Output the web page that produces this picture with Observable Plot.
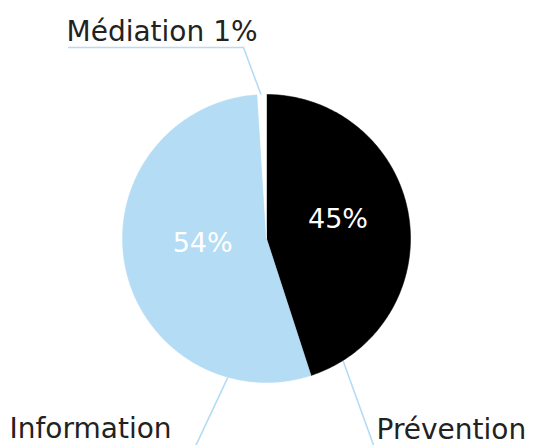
<!DOCTYPE html>
<html>
<head>
<meta charset="utf-8">
<script src="https://cdn.jsdelivr.net/npm/d3@7"></script>
<script src="https://cdn.jsdelivr.net/npm/@observablehq/plot@0.6"></script>
<style>
  html, body { margin: 0; padding: 0; background: #ffffff; }
  #chart svg { display: block; }
</style>
</head>
<body>
<div id="chart"></div>
<script>
// ---- data ----
const categories = ["Prévention", "Information", "Médiation"];
const values = [45, 54, 1];
const valueLabels = ["45%", "54%", "1%"];
const colors = ["#000000", "#b4dcf4", "#ffffff"];

// ---- layout ----
const W = 543, H = 445;
const cx = 266, cy = 238, R = 144;
const font = "'DejaVu Sans', 'Noto Sans', sans-serif";
const lineColor = "#b4dcf4";
const textColor = "#222222";

const rows = categories.map((name, i) => ({name, value: values[i], label: valueLabels[i], color: colors[i]}));
const arcs = d3.pie().sort(null).value(d => d.value)(rows);

const polar = (a, r) => ({x: r * Math.sin(a), y: r * Math.cos(a)});
const deg = d => d * Math.PI / 180;

function slicePoints(arc) {
  const pts = [{x: 0, y: 0}];
  const n = Math.max(4, Math.ceil((arc.endAngle - arc.startAngle) / deg(1)));
  for (let k = 0; k <= n; k++) {
    const a = arc.startAngle + (arc.endAngle - arc.startAngle) * k / n;
    pts.push(polar(a, R));
  }
  pts.push({x: 0, y: 0});
  return pts;
}

const sliceMarks = arcs.map(a => Plot.line(slicePoints(a), {
  x: "x", y: "y", fill: a.data.color, stroke: a.data.color, strokeWidth: 0.5, curve: "linear"
}));

// inside value labels (angle deg, radius px)
const inside = {"Prévention": [75, 74], "Information": [266, 64]};
const insideRows = arcs.filter(a => inside[a.data.name]).map(a => {
  const [ang, r] = inside[a.data.name];
  return {...polar(deg(ang), r), text: a.data.label};
});

// leader lines: start on pie edge, then to label anchor (pixel positions)
const mid = a => (a.startAngle + a.endAngle) / 2;
const arcOf = name => arcs.find(a => a.data.name === name);
const toData = (px, py) => ({x: px - cx, y: cy - py});
const leaders = [
  [polar(mid(arcOf("Médiation")), R - 3), toData(243, 47), toData(68, 47)],
  [polar(deg(148), R + 1), toData(375, 450)],
  [polar(deg(195.6), R + 1), toData(193, 450)]
];
const leaderMarks = leaders.map(pts => Plot.line(pts, {x: "x", y: "y", stroke: lineColor, strokeWidth: 1.6, curve: "linear"}));

// outside labels (baseline pixel positions)
const fs = 28;
const outside = [
  {name: "Médiation", text: "Médiation 1%", px: 66, base: 40},
  {name: "Prévention", text: "Prévention", px: 376, base: 438},
  {name: "Information", text: "Information", px: 9, base: 437}
].map(d => ({...toData(d.px, d.base - fs * 0.32), text: d.text}));

const chart = Plot.plot({
  width: W, height: H,
  margin: 0,
  x: {domain: [-cx, W - cx], axis: null},
  y: {domain: [cy - H, cy], axis: null},
  style: {background: "#ffffff"},
  marks: [
    ...leaderMarks,
    ...sliceMarks,
    Plot.text(insideRows, {x: "x", y: "y", text: "text", fill: "#ffffff", fontSize: 27, fontFamily: font, fontWeight: 400}),
    Plot.text(outside, {x: "x", y: "y", text: "text", fill: textColor, fontSize: fs, fontFamily: font, textAnchor: "start", fontWeight: 400})
  ]
});
document.getElementById("chart").appendChild(chart);
</script>
</body>
</html>
